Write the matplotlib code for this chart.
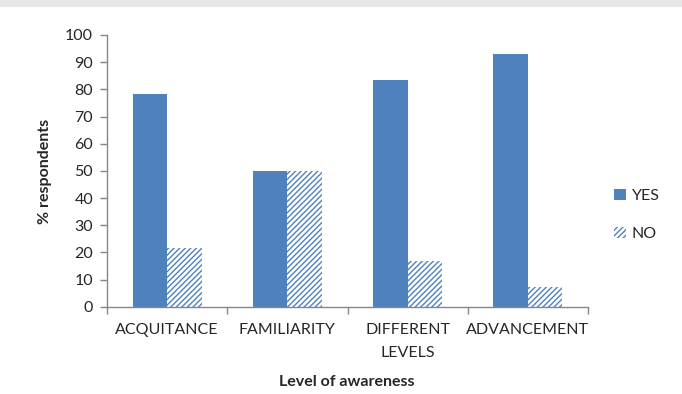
import matplotlib
matplotlib.use("Agg")
import matplotlib.pyplot as plt
from matplotlib.patches import Rectangle, Patch
import numpy as np

plt.rcParams['font.family'] = ['Lato', 'DejaVu Sans']
plt.rcParams['hatch.linewidth'] = 1.0

categories = ["ACQUITANCE", "FAMILIARITY", "DIFFERENT\nLEVELS", "ADVANCEMENT"]
yes_values = [78.3, 50.0, 83.3, 92.9]
no_values = [21.7, 50.0, 16.7, 7.1]
y_ticks = [0, 10, 20, 30, 40, 50, 60, 70, 80, 90, 100]

blue = "#4f81bd"
axis_gray = "#868686"
text_col = "#262626"

fig = plt.figure(figsize=(6.82, 3.94), dpi=100)
fig.patches.append(Rectangle((0, 387 / 394), 1, 7 / 394, transform=fig.transFigure,
                             facecolor="#e6e7e9", edgecolor="none", zorder=0))

ax = fig.add_axes([107 / 682, 1 - 306.7 / 394, (588 - 107) / 682, (306.7 - 35) / 394])

x = np.arange(len(categories))
w = 0.287
ax.bar(x - w / 2, yes_values, w, color=blue, edgecolor="none", label="YES")
ax.bar(x + w / 2, no_values, w, color="white", edgecolor=blue, hatch="//////",
       linewidth=0, label="NO")

ax.set_xlim(-0.5, len(categories) - 0.5)
ax.set_ylim(0, 100)
ax.set_yticks(y_ticks)
ax.tick_params(axis='y', direction='out', length=5, width=1, color=axis_gray,
               labelsize=11.5, labelcolor=text_col, pad=5)

ax.set_xticks(np.arange(len(categories) + 1) - 0.5)
ax.set_xticklabels([])
ax.tick_params(axis='x', which='major', direction='out', length=5, width=1, color=axis_gray)
ax.set_xticks(x, minor=True)
ax.set_xticklabels(categories, minor=True, fontsize=11.5, color=text_col, linespacing=1.75)
ax.tick_params(axis='x', which='minor', length=0, pad=12)

for s in ['top', 'right']:
    ax.spines[s].set_visible(False)
for s in ['left', 'bottom']:
    ax.spines[s].set_color(axis_gray)
    ax.spines[s].set_linewidth(1)

fig.text(45 / 682, 1 - 171 / 394, "% respondents", rotation=90, fontsize=11.5,
         fontweight='bold', color=text_col, ha='center', va='center')
fig.text(347 / 682, 1 - 382 / 394, "Level of awareness", fontsize=11.5,
         fontweight='bold', color=text_col, ha='center', va='center')

handles = [Patch(facecolor=blue, edgecolor="none"),
           Patch(facecolor="white", edgecolor=blue, hatch="//////", linewidth=0)]
leg = fig.legend(handles, ["YES", "NO"], loc='center left', bbox_to_anchor=(600 / 682, 1 - 215 / 394),
                 frameon=False, fontsize=11.5, handlelength=0.7, handleheight=0.7,
                 handletextpad=0.4, labelspacing=1.5, labelcolor=text_col)

fig.savefig("out.png", dpi=100)
